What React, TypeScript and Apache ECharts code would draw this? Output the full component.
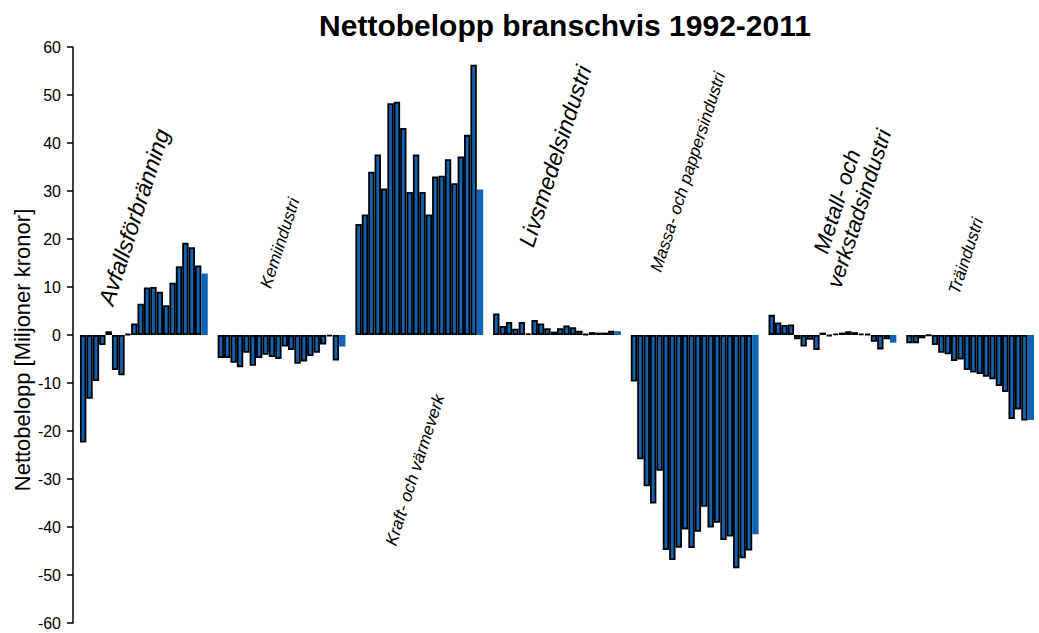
import React, { useEffect, useRef } from 'react';
import * as echarts from 'echarts';

const industries = [
  'Avfallsförbränning',
  'Kemiindustri',
  'Kraft- och värmeverk',
  'Livsmedelsindustri',
  'Massa- och pappersindustri',
  'Metall- och\nverkstadsindustri',
  'Träindustri',
];

const years = [
  '1992', '1993', '1994', '1995', '1996', '1997', '1998', '1999', '2000', '2001',
  '2002', '2003', '2004', '2005', '2006', '2007', '2008', '2009', '2010', '2011',
];

const avfall = [-22.4, -13.3, -9.6, -2.1, 0.8, -7.3, -8.4, 0.2, 2.4, 6.5, 9.9, 10.0, 9.0, 6.2, 10.9, 14.3, 19.2, 18.3, 14.5, 12.8];
const kemi = [-4.8, -4.8, -5.8, -6.7, -3.7, -6.4, -4.8, -4.1, -4.6, -5.0, -2.4, -3.1, -6.0, -5.5, -4.4, -3.7, -2.0, -0.3, -5.3, -2.4];
const kraft = [23.1, 25.1, 34.0, 37.6, 30.5, 48.3, 48.6, 43.1, 29.8, 37.6, 29.8, 25.1, 33.0, 33.2, 36.6, 31.6, 37.2, 41.7, 56.3, 30.3];
const livsmedel = [4.5, 1.9, 2.7, 1.3, 2.7, 0.35, 3.1, 2.4, 1.4, 0.7, 1.4, 2.0, 1.6, 0.9, 0.2, 0.6, 0.5, 0.5, 0.9, 0.8];
const massa = [-9.7, -25.9, -31.5, -35.1, -28.3, -44.8, -46.9, -44.3, -40.5, -44.4, -41.0, -35.8, -40.1, -39.1, -42.7, -42.0, -48.6, -46.5, -44.9, -41.5];
const metall = [4.2, 2.6, 2.1, 2.2, -0.9, -2.4, -1.0, -3.1, 0.5, -0.2, 0.3, 0.5, 0.8, 0.6, 0.3, 0.2, -1.4, -3.0, -0.9, -1.6];
const tra = [-1.7, -1.7, -0.7, -0.1, -2.1, -3.7, -4.0, -5.4, -5.1, -7.3, -7.8, -8.1, -8.7, -9.2, -10.6, -11.9, -17.5, -15.5, -17.8, -17.7];

const valuesByIndustry = [avfall, kemi, kraft, livsmedel, massa, metall, tra];

const title = 'Nettobelopp branschvis 1992-2011';
const yAxisName = 'Nettobelopp [Miljoner kronor]';

const FONT = '"Liberation Sans", Arial, sans-serif';
const BAR_COLOR = '#0E63B4';

// label placement (centre x, centre y, font size)
const labelLayout = [
  { x: 134, y: 217, size: 23 },
  { x: 280, y: 243, size: 17 },
  { x: 415, y: 470, size: 17 },
  { x: 555, y: 156, size: 23 },
  { x: 688, y: 172, size: 17 },
  { x: 848, y: 205, size: 22 },
  { x: 966, y: 256, size: 17 },
];

export default function App() {
  const ref = useRef<HTMLDivElement>(null);

  useEffect(() => {
    if (!ref.current) return;
    const chart = echarts.init(ref.current, null, { renderer: 'svg' });
    const rot = (72 * Math.PI) / 180;

    const series = years.map((yr, i) => ({
      type: 'bar',
      name: yr,
      data: valuesByIndustry.map((arr) => arr[i]),
      barGap: '0%',
      barCategoryGap: '7.2%',
      itemStyle: {
        color: BAR_COLOR,
        borderColor: '#000',
        borderWidth: i === years.length - 1 ? 0 : 1.8,
      },
      emphasis: { disabled: true },
      silent: true,
    }));

    const labelGraphics = industries.map((name, i) => ({
      type: 'text',
      x: labelLayout[i].x,
      y: labelLayout[i].y,
      rotation: rot,
      style: {
        text: name,
        fontSize: labelLayout[i].size,
        fontStyle: 'italic',
        fontFamily: FONT,
        fill: '#000',
        align: 'center',
        verticalAlign: 'middle',
        textAlign: 'center',
        textVerticalAlign: 'middle',
        lineHeight: labelLayout[i].size * 1.05,
      },
    }));

    chart.setOption({
      animation: false,
      grid: { left: 75, top: 47, width: 968, height: 576, containLabel: false },
      xAxis: {
        type: 'category',
        data: industries,
        axisLine: { show: false },
        axisTick: { show: false },
        axisLabel: { show: false },
        splitLine: { show: false },
      },
      yAxis: {
        type: 'value',
        min: -60,
        max: 60,
        interval: 10,
        offset: 2,
        axisLine: { show: true, lineStyle: { color: '#000', width: 1.5 } },
        axisTick: { show: true, inside: false, length: 6, lineStyle: { color: '#000', width: 1.5 } },
        axisLabel: { fontSize: 16, fontFamily: FONT, color: '#000', margin: 12 },
        splitLine: { show: false },
      },
      graphic: [
        {
          type: 'text',
          x: 565,
          y: 25,
          style: {
            text: title,
            fontSize: 30,
            fontWeight: 'bold',
            fontFamily: FONT,
            fill: '#000',
            align: 'center',
            verticalAlign: 'middle',
            textAlign: 'center',
            textVerticalAlign: 'middle',
          },
        },
        {
          type: 'text',
          x: 22,
          y: 350,
          rotation: Math.PI / 2,
          style: {
            text: yAxisName,
            fontSize: 22,
            fontFamily: FONT,
            fill: '#000',
            align: 'center',
            verticalAlign: 'middle',
            textAlign: 'center',
            textVerticalAlign: 'middle',
          },
        },
        ...labelGraphics,
      ],
      series,
    });

    return () => chart.dispose();
  }, []);

  return (
    <div
      ref={ref}
      style={{ position: 'fixed', left: 0, top: 0, width: 1039, height: 633, background: '#fff' }}
    />
  );
}
